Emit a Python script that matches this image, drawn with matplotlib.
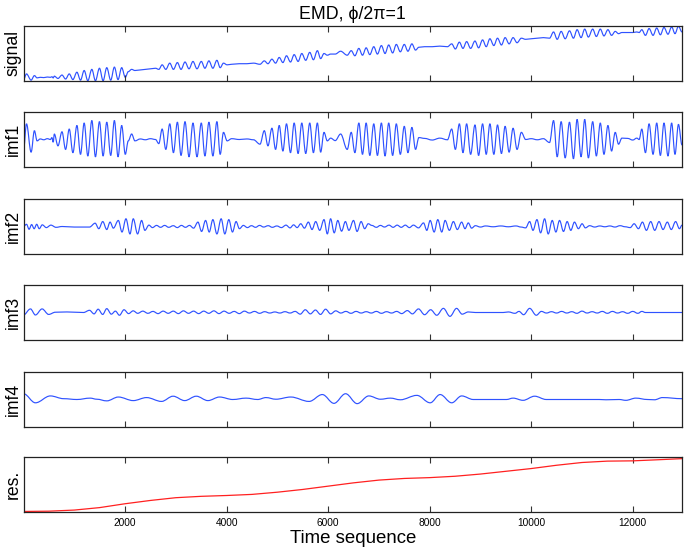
import matplotlib
matplotlib.use("Agg")
import matplotlib.pyplot as plt
from matplotlib.path import Path
from matplotlib.patches import PathPatch

plt.rcParams['font.family'] = ['Liberation Sans', 'DejaVu Sans']

# ---- data (sample index, value) ----
# extrema of imf1; the signal has its extrema at the same samples
t1 = [0, 59, 150, 215, 268, 330, 400, 470, 530, 560, 585,
      607, 679, 758, 829, 901, 973, 1052, 1123, 1195, 1267, 1346, 1417, 1496, 1568, 1640, 1718, 1790, 1862, 1934, 2005,
      2064, 2130, 2195, 2300, 2400, 2500, 2600, 2665,
      2731, 2803, 2881, 2953, 3031, 3103, 3181, 3260, 3338, 3417, 3502, 3573, 3652, 3730, 3809, 3874, 3939, 4011,
      4100, 4250, 4400, 4530, 4658,
      4743, 4815, 4893, 4965, 5037, 5109, 5180, 5259, 5331, 5409, 5481, 5559, 5638, 5710, 5788, 5853, 5919, 5984,
      6050, 6140, 6246, 6376,
      6455, 6527, 6605, 6677, 6749, 6821, 6899, 6971, 7049, 7121, 7193, 7271, 7343, 7422, 7500, 7572, 7650, 7722, 7787,
      7900, 8050, 8200, 8350,
      8434, 8506, 8585, 8656, 8728, 8807, 8892, 8964, 9042, 9114, 9186, 9264, 9336, 9414, 9486, 9565, 9643, 9721, 9806, 9891,
      10000, 10120, 10240, 10361,
      10440, 10512, 10590, 10669, 10754, 10832, 10904, 10982, 11054, 11126, 11211, 11283, 11361, 11433, 11511, 11583, 11655, 11720, 11786,
      11900, 12000, 12080, 12126,
      12178, 12250, 12322, 12400, 12472, 12544, 12615, 12694, 12766, 12832, 12900, 12970]
imf1 = [-0.40, 0.57, -0.46, 0.32, -0.05, 0.02, -0.01, 0.03, 0.00, 0.07, -0.10,
        0.20, -0.23, 0.28, -0.36, 0.38, -0.48, 0.51, -0.54, 0.60, -0.60, 0.69, -0.63, 0.65, -0.60, 0.63, -0.58, 0.69, -0.63, 0.51, -0.54,
        -0.05, 0.20, -0.05, 0.02, -0.01, 0.03, 0.00, -0.15,
        0.38, -0.36, 0.57, -0.48, 0.63, -0.58, 0.65, -0.63, 0.60, -0.63, 0.60, -0.60, 0.63, -0.60, 0.65, -0.54, 0.26, -0.05,
        0.03, 0.00, 0.02, -0.01, -0.17,
        0.32, -0.23, 0.41, -0.36, 0.51, -0.42, 0.57, -0.48, 0.60, -0.51, 0.60, -0.51, 0.60, -0.48, 0.60, -0.46, 0.26, -0.05,
        0.05, -0.04, 0.20, -0.36,
        0.26, -0.48, 0.60, -0.54, 0.60, -0.58, 0.57, -0.58, 0.60, -0.60, 0.60, -0.58, 0.57, -0.54, 0.48, -0.48, 0.44, -0.36, 0.07,
        0.04, -0.02, 0.05, -0.01,
        0.38, -0.36, 0.57, -0.48, 0.57, -0.54, 0.53, -0.58, 0.57, -0.54, 0.57, -0.54, 0.53, -0.51, 0.48, -0.46, 0.41, -0.36, 0.26, 0.00,
        0.03, -0.01, 0.03, -0.11,
        0.69, -0.63, 0.65, -0.67, 0.63, -0.70, 0.73, -0.63, 0.73, -0.67, 0.65, -0.60, 0.60, -0.54, 0.51, -0.42, 0.26, -0.17, 0.05,
        0.04, -0.02, 0.05, 0.00,
        0.38, -0.48, 0.57, -0.54, 0.60, -0.58, 0.60, -0.60, 0.60, -0.54, 0.55, -0.20]
signal = [3.5, 14, 3, 11, 7, 8, 7.5, 8.5, 8, 9, 7,
          10, 6, 12, 5, 14, 4, 17, 3, 20, 2, 22, 2, 24, 2, 25, 3, 26, 4, 25, 8,
          18, 22, 20, 21, 22, 23, 24, 22,
          30, 22, 33, 22, 34, 22, 35, 23, 36, 23, 36, 24, 37, 24, 38, 25, 33, 30,
          31, 32, 32, 33, 31,
          37, 32, 40, 33, 43, 34, 46, 35, 48, 36, 50, 38, 52, 39, 55, 41, 50, 47,
          49, 49, 54, 47,
          55, 46, 59, 47, 60, 48, 62, 49, 64, 50, 65, 51, 66, 53, 66, 54, 67, 56, 61,
          62, 62, 63, 62,
          67, 58, 70, 59, 71, 59, 72, 60, 74, 62, 76, 64, 77, 65, 78, 67, 78, 69, 77, 75,
          76, 77, 78, 77,
          88, 75, 89, 76, 90, 77, 92, 78, 93, 79, 93, 80, 93, 81, 92, 82, 89, 85, 87,
          87, 87, 88, 87,
          92, 82, 94, 82, 95, 83, 96, 84, 97, 85, 98, 88]

t2 = [0, 60, 110, 160, 210, 260, 310, 370, 450, 540, 640, 760, 1000, 1300,
      1411, 1483, 1561, 1640, 1705, 1770,
      1868, 1940, 2018, 2097, 2162, 2247, 2326, 2391,
      2470, 2540, 2620, 2700, 2780, 2860, 2950, 3030, 3110, 3190, 3270, 3350,
      3436, 3508, 3586, 3658, 3730, 3809, 3893, 3965, 4044, 4116, 4187, 4253,
      4330, 4410, 4490, 4570, 4650, 4730, 4820, 4900, 4990, 5080, 5170, 5250, 5320, 5390,
      5461, 5533, 5611, 5683, 5755, 5834, 5919, 5984, 6049, 6120, 6190, 6265, 6340, 6409, 6500, 6570, 6650, 6720, 6790,
      6860, 6950, 7030, 7110, 7200, 7280, 7360, 7440, 7520, 7600, 7680, 7780,
      7879, 7944, 8010, 8088, 8160, 8238, 8304, 8388, 8467, 8545, 8630, 8696, 8761, 8826,
      8900, 9000, 9100, 9250, 9400, 9550, 9700, 9800, 9890,
      9969, 10035, 10113, 10185, 10264, 10335, 10414, 10486, 10558, 10636, 10708, 10780, 10852, 10930, 11002, 11067,
      11150, 11250, 11350, 11450, 11550, 11650, 11750, 11850, 11950,
      12027, 12112, 12191, 12269, 12354, 12433, 12518, 12596, 12681, 12759, 12844, 12920, 12970]
imf2 = [0.0, 0.08, -0.10, 0.07, -0.08, 0.08, -0.08, 0.06, -0.04, 0.05, -0.03, 0.0, -0.02, -0.02,
        0.12, -0.08, 0.18, -0.11, 0.16, -0.06,
        0.22, -0.20, 0.28, -0.27, 0.28, -0.27, 0.22, -0.14,
        0.05, -0.04, 0.04, -0.03, 0.04, -0.03, 0.03, -0.04, 0.04, -0.03, 0.04, -0.06,
        0.16, -0.18, 0.22, -0.20, 0.25, -0.27, 0.28, -0.27, 0.25, -0.20, 0.18, -0.08,
        0.04, -0.04, 0.03, -0.03, 0.04, -0.02, 0.03, -0.03, 0.02, -0.04, 0.05, -0.05, 0.06, -0.04,
        0.10, -0.06, 0.16, -0.11, 0.18, -0.14, 0.25, -0.27, 0.28, -0.23, 0.22, -0.17, 0.18, -0.14, 0.22, -0.18, 0.18, -0.08, 0.10,
        0.04, -0.03, 0.04, -0.02, 0.05, -0.03, 0.05, -0.03, 0.05, -0.04, 0.05, -0.05,
        0.13, -0.14, 0.22, -0.20, 0.25, -0.20, 0.22, -0.14, 0.18, -0.11, 0.16, -0.08, 0.13, -0.06,
        0.03, -0.02, 0.02, -0.01, 0.02, -0.01, 0.02, -0.02, -0.05,
        0.18, -0.14, 0.25, -0.23, 0.28, -0.27, 0.22, -0.20, 0.22, -0.18, 0.18, -0.14, 0.16, -0.08, 0.10, -0.05,
        0.03, -0.02, 0.02, -0.01, 0.02, -0.02, 0.03, -0.01, -0.04,
        0.10, -0.08, 0.16, -0.14, 0.18, -0.14, 0.18, -0.11, 0.16, -0.11, 0.18, -0.08, 0.05]

t3 = [0, 137, 235, 366, 496, 627, 856, 1182,
      1300, 1390, 1470, 1560, 1640, 1730, 1810, 1890, 1980, 2070, 2160, 2250,
      2350, 2450, 2550, 2650, 2750, 2850, 2950, 3050, 3150, 3250, 3350, 3450, 3550, 3650, 3750, 3850,
      3950, 4050, 4150, 4250, 4350, 4450, 4550, 4650, 4750, 4850, 4950, 5050, 5150, 5250, 5350,
      5450, 5550, 5650, 5750, 5850, 5950, 6050, 6150, 6250,
      6350, 6450, 6550, 6650, 6750, 6850, 6950, 7050, 7150, 7250, 7350,
      7450, 7560, 7660, 7780, 7900, 8020, 8140, 8270, 8400, 8530, 8640, 8760,
      8900, 9450,
      9550, 9680, 9760, 9850, 9970, 10100, 10200, 10300,
      10400, 10500, 10600, 10700, 10800, 10900, 11000, 11100, 11200, 11300, 11400, 11500, 11600, 11700,
      11800, 11900, 12000, 12100, 12180,
      12250, 12970]
imf3 = [-0.09, 0.13, -0.09, 0.13, -0.07, 0.01, 0.02, 0.0,
        0.08, -0.05, 0.12, -0.07, 0.14, -0.06, 0.05, -0.10, 0.10, -0.04, 0.06, -0.03,
        0.05, -0.03, 0.04, -0.04, 0.05, -0.03, 0.05, -0.04, 0.06, -0.03, 0.05, -0.04, 0.05, -0.03, 0.06, -0.04,
        0.05, -0.03, 0.04, -0.04, 0.05, -0.02, 0.04, -0.03, 0.03, -0.02, 0.02, -0.02, 0.03, -0.02, 0.04,
        -0.06, 0.10, -0.05, 0.09, -0.07, 0.12, -0.05, 0.06, -0.02,
        0.04, -0.03, 0.04, -0.02, 0.03, -0.02, 0.04, -0.03, 0.03, -0.02, 0.04,
        -0.04, 0.07, -0.05, 0.13, -0.08, 0.10, -0.10, 0.15, -0.14, 0.15, -0.06, 0.02,
        0.0, 0.0,
        0.02, -0.03, 0.04, -0.08, 0.15, -0.10, 0.04, -0.02,
        0.03, -0.02, 0.04, -0.02, 0.03, -0.03, 0.05, -0.02, 0.03, -0.02, 0.04, -0.03, 0.04, -0.02,
        0.03, -0.03, 0.04, -0.03, 0.04,
        0.0, 0.0]

t4 = [0, 235, 529, 790, 1052, 1313, 1444, 1640, 1868, 2162, 2424, 2718, 2946, 3175, 3403,
      3632, 3861, 4122, 4383, 4612, 4775, 4971, 5265, 5625, 5886, 6115, 6344, 6572, 6801, 7030,
      7226, 7422, 7748, 8010, 8206, 8434, 8630, 8859, 9512, 9643, 9839, 10067, 10296, 11341, 11472,
      11733, 11864, 12060, 12289, 12430, 12583, 12970]
imf4 = [0.21, -0.12, 0.13, 0.03, 0.0, 0.05, 0.01, -0.05, 0.09, -0.04, 0.07, -0.07, 0.12, -0.04, 0.12,
        -0.04, 0.09, 0.0, 0.05, 0.0, 0.07, 0.01, 0.09, -0.07, 0.18, -0.14, 0.21, -0.15, 0.13, 0.01,
        0.05, -0.01, 0.15, -0.12, 0.18, -0.12, 0.13, 0.0, 0.0, 0.05, -0.03, 0.12, 0.0, 0.0, -0.01,
        0.0, -0.03, 0.05, 0.0, -0.01, 0.07, 0.03]

t_res = [0, 500, 1000, 1500, 2000, 2500, 3000, 3500, 4000, 4500, 5000, 5500, 6000, 6500,
         7000, 7500, 8000, 8500, 9000, 9500, 10000, 10500, 11000, 11500, 12000, 12500, 12970]
res = [0.01, 0.015, 0.035, 0.08, 0.15, 0.21, 0.26, 0.285, 0.30, 0.32, 0.36, 0.41, 0.47, 0.53,
       0.58, 0.61, 0.625, 0.65, 0.69, 0.74, 0.79, 0.85, 0.90, 0.925, 0.93, 0.95, 0.97]

xticks = [2000, 4000, 6000, 8000, 10000, 12000]
names = ['signal', 'imf1', 'imf2', 'imf3', 'imf4', 'res.']

for a, b in [(t1, imf1), (t1, signal), (t2, imf2), (t3, imf3), (t4, imf4), (t_res, res)]:
    assert len(a) == len(b)

BLUE = '#2f52ff'
RED = '#ff2020'


def wave(ax, xs, ys, color):
    # smooth curve through the extrema (flat tangent at each one)
    verts = [(xs[0], ys[0])]
    codes = [Path.MOVETO]
    for i in range(1, len(xs)):
        dx = xs[i] - xs[i - 1]
        verts += [(xs[i - 1] + 0.36 * dx, ys[i - 1]), (xs[i] - 0.36 * dx, ys[i]), (xs[i], ys[i])]
        codes += [Path.CURVE4] * 3
    ax.add_patch(PathPatch(Path(verts, codes), fill=False, edgecolor=color, lw=0.85))


fig = plt.figure(figsize=(6.85, 5.54), dpi=100)
left, width, height = 23.5 / 685, 658.5 / 685, 55 / 554
bottoms = [81, 167, 254, 340, 427, 512]

axes = []
for i, b in enumerate(bottoms):
    ax = fig.add_axes([left, 1 - b / 554, width, height])
    axes.append(ax)
    ax.set_xlim(0, 12970)
    ax.set_xticks(xticks)
    ax.set_yticks([])
    ax.tick_params(axis='x', direction='in', top=True, bottom=True, length=4.5, width=0.8,
                   color='#333333', labelsize=7.3, pad=4)
    if i < 5:
        ax.tick_params(labelbottom=False)
    for sp in ax.spines.values():
        sp.set_linewidth(0.9)
        sp.set_color('#222222')
    ax.set_ylabel(names[i], fontsize=12.7, labelpad=1.5)

wave(axes[0], t1, signal, BLUE)
axes[0].set_ylim(min(signal) - 0.5, max(signal) + 0.5)
axes[0].set_title('EMD, ϕ/2π=1', fontsize=12.8, pad=5)

for ax, tt, vv in [(axes[1], t1, imf1), (axes[2], t2, imf2), (axes[3], t3, imf3), (axes[4], t4, imf4)]:
    wave(ax, tt, vv, BLUE)
    ax.set_ylim(-1, 1)

axes[5].plot(t_res, res, color=RED, lw=0.9)
axes[5].set_ylim(0, 1)
axes[5].set_xlabel('Time sequence', fontsize=13.4, labelpad=2)

fig.savefig('out.png', dpi=100)
